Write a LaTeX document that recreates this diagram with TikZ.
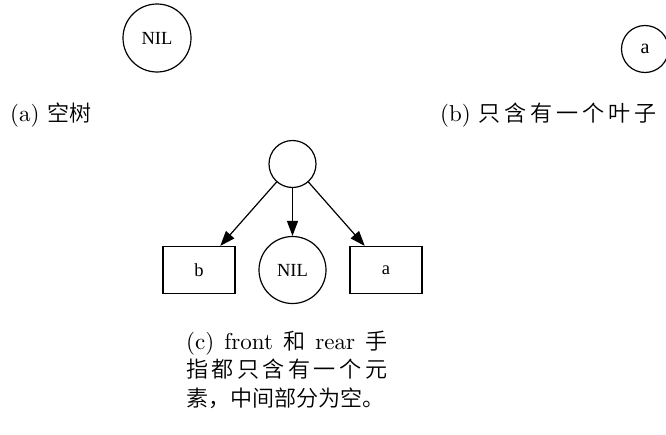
\documentclass[tikz,border=0pt]{standalone}
\usepackage{fontspec}
\setmainfont{lmroman10-regular.otf}
\newfontfamily\cjk{Noto Sans CJK SC}[UprightFont={* DemiLight},Scale=0.96]
\newfontfamily\gvfont{Liberation Serif}
\usetikzlibrary{arrows.meta}
\begin{document}
\begin{tikzpicture}[x=1pt,y=-1pt,
  every node/.style={inner sep=0pt},
  gvcircle/.style={draw,circle,line width=1.2pt,font=\gvfont\fontsize{18.5}{22}\selectfont},
  gvbox/.style={draw,rectangle,line width=1.2pt,minimum width=72pt,minimum height=47pt,font=\gvfont\fontsize{18.5}{22}\selectfont},
  gvedge/.style={line width=1.2pt,-{Triangle[length=15pt,width=11pt]}},
  captext/.style={anchor=base west,font=\fontsize{23}{28.5}\selectfont}]
\clip (0,0) rectangle (666,434);
\useasboundingbox (0,0) rectangle (666,434);
% (a)
\node[gvcircle,minimum size=68pt] (nilA) at (157,38) {NIL};
\node[captext] (capA) at (10,121) {(a) {\cjk 空树}};
% (b)
\node[gvcircle,minimum size=47pt,font=\gvfont\fontsize{20}{24}\selectfont] (leafB) at (645,49) {a};
\node[captext] (capB) at (440,121) {\makebox[216pt][s]{(b) {\cjk 只}\hfil{\cjk 含}\hfil{\cjk 有}\hfil{\cjk 一}\hfil{\cjk 个}\hfil{\cjk 叶}\hfil{\cjk 子}}};
% (c)
\node[gvcircle,minimum size=47pt] (root) at (292.5,164) {};
\node[gvbox] (b) at (199,270) {b};
\node[gvcircle,minimum size=67pt] (nilC) at (292.5,270) {NIL};
\node[gvbox] (a) at (386,270) {a};
\draw[gvedge] (root) -- (b);
\draw[gvedge] (root) -- (nilC);
\draw[gvedge] (root) -- (a);
\node[captext] (capC1) at (186,349) {\makebox[201pt][s]{(c) front {\cjk 和} rear {\cjk 手}}};
\node[captext] (capC2) at (186,377.5) {\makebox[201pt][s]{\cjk 指\hfil 都\hfil 只\hfil 含\hfil 有\hfil 一\hfil 个\hfil 元}};
\node[captext] (capC3) at (186,406) {\cjk 素，中间部分为空。};
\end{tikzpicture}
\end{document}
